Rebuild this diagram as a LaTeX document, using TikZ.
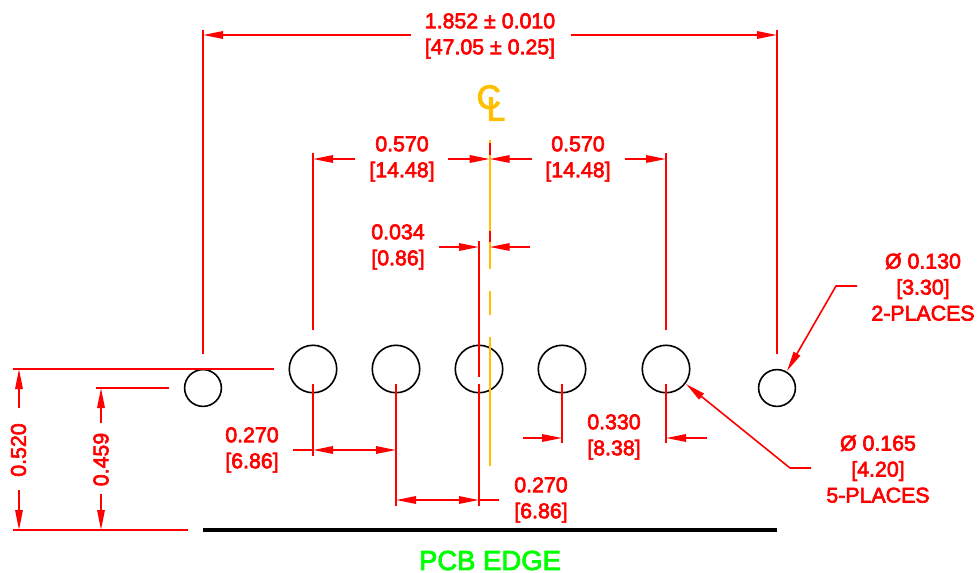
\documentclass[tikz,border=0pt]{standalone}
\usepackage{fontspec}
\setmainfont[FakeBold=3]{Liberation Sans}
\usetikzlibrary{arrows.meta}
\definecolor{dimred}{RGB}{255,0,0}
\definecolor{clorange}{RGB}{255,191,0}
\definecolor{pcbgreen}{RGB}{0,255,0}
\tikzset{
  dimline/.style={draw=dimred,line width=1.2pt},
  dimarrow/.style={dimline,-{Triangle[length=15pt,width=5.6pt]}},
  bothdim/.style={dimline,{Triangle[length=15pt,width=5.6pt]}-{Triangle[length=15pt,width=5.6pt]}},
  bighole/.style={circle,draw=black,line width=1.2pt,minimum size=35.6pt,inner sep=0pt},
  smallhole/.style={circle,draw=black,line width=1.2pt,minimum size=27.6pt,inner sep=0pt},
  dimtext/.style={text=dimred,align=center,inner sep=0pt,font=\fontsize{16pt}{19.5pt}\selectfont},
  pcbtext/.style={text=pcbgreen,inner sep=0pt,font=\fontsize{20.6pt}{20.6pt}\selectfont},
  cltext/.style={text=clorange,inner sep=0pt,font=\fontsize{25pt}{25pt}\selectfont},
  clline/.style={draw=clorange,line width=1.2pt},
  edgeline/.style={draw=black,line width=2.7pt}
}
\begin{document}
\begin{tikzpicture}[x=0.75pt,y=-0.75pt]
\useasboundingbox (0,0) rectangle (979,572);
% holes
\node[smallhole] (s1) at (203,388) {};
\node[smallhole] (s2) at (777,388) {};
\node[bighole] (b1) at (313,369) {};
\node[bighole] (b2) at (396,369) {};
\node[bighole] (b3) at (479,369) {};
\node[bighole] (b4) at (562,369) {};
\node[bighole] (b5) at (666,369) {};
% named points
\foreach \n/\x/\y in {
 ta/203/30, tb/203/35, tc/203/354, td/411/35, te/571/35, tf/777/35, tg/777/30, th/777/354,
 ua/313/153, ub/313/159, uc/313/330, ud/355/159, ue/448/159, uf/489.7/159, ug/532/159,
 uh/625/159, ui/666/159, uj/666/153, uk/666/330,
 ca/489.7/143, cb/489.7/155, cc/489.7/231, cd/489.7/242, ce/489.7/140, cf/489.7/269,
 cg/489.7/291, ch/489.7/315, ci/489.7/337, cj/489.7/466,
 va/479/241, vb/479/377, vc/439/247, vd/479/247, ve/530/247, vf/489.7/247,
 wa/13/369, wb/274/369, wc/13/530, wd/188/530, we/96/388, wf/169/388,
 xa/19/369, xb/19/408, xc/19/490, xd/19/530, xe/101/388, xf/101/423, xg/101/494, xh/101/530,
 ya/313/384, yb/313/456, yc/396/384, yd/396/506, ye/479/384, yf/479/506,
 yg/293/450, yh/313/450, yi/396/450, yj/396/500, yk/479/500, yl/499/500,
 za/562/384, zb/562/443, zc/666/384, zd/666/443, ze/523/438, zf/562/438, zg/707/438, zh/666/438,
 la/857/286, lb/836/286, lc/787/371, ld/811/468, le/790/468, lf/686/384,
 ea/203/530, eb/777/530}
 {\coordinate (\n) at (\x,\y);}
% overall width
\draw[dimline] (ta) -- (tc);
\draw[dimline] (tg) -- (th);
\draw[dimarrow] (td) -- (tb);
\draw[dimarrow] (te) -- (tf);
% centre line
\draw[clline] (ce) -- (ca);
\draw[clline] (cb) -- (cc);
\draw[clline] (cd) -- (cf);
\draw[clline] (cg) -- (ch);
\draw[clline] (ci) -- (cj);
\draw[dimline] (ca) -- (cb);
\draw[dimline] (cc) -- (cd);
% 0.570
\draw[dimline] (ua) -- (uc);
\draw[dimline] (uj) -- (uk);
\draw[dimarrow] (ud) -- (ub);
\draw[dimarrow] (ue) -- (uf);
\draw[dimarrow] (ug) -- (uf);
\draw[dimarrow] (uh) -- (ui);
% 0.034
\draw[dimline] (va) -- (vb);
\draw[dimarrow] (vc) -- (vd);
\draw[dimarrow] (ve) -- (vf);
% heights
\draw[dimline] (wa) -- (wb);
\draw[dimline] (wc) -- (wd);
\draw[dimline] (we) -- (wf);
\draw[dimarrow] (xb) -- (xa);
\draw[dimarrow] (xc) -- (xd);
\draw[dimarrow] (xf) -- (xe);
\draw[dimarrow] (xg) -- (xh);
% 0.270
\draw[dimline] (ya) -- (yb);
\draw[dimline] (yc) -- (yd);
\draw[dimline] (ye) -- (yf);
\draw[dimline] (yg) -- (yh);
\draw[bothdim] (yh) -- (yi);
\draw[bothdim] (yj) -- (yk);
\draw[dimline] (yk) -- (yl);
% 0.330
\draw[dimline] (za) -- (zb);
\draw[dimline] (zc) -- (zd);
\draw[dimarrow] (ze) -- (zf);
\draw[dimarrow] (zg) -- (zh);
% leaders
\draw[dimarrow] (la) -- (lb) -- (lc);
\draw[dimarrow] (ld) -- (le) -- (lf);
% pcb edge
\draw[edgeline] (ea) -- (eb);
% texts
\node[dimtext] (t1) at (490,36) {1.852 ± 0.010\\{}[47.05 ± 0.25]};
\node[dimtext] (t2) at (402,159) {0.570\\{}[14.48]};
\node[dimtext] (t3) at (578,159) {0.570\\{}[14.48]};
\node[dimtext] (t4) at (398,247) {0.034\\{}[0.86]};
\node[dimtext] (t5) at (252,450) {0.270\\{}[6.86]};
\node[dimtext] (t6) at (541,500) {0.270\\{}[6.86]};
\node[dimtext] (t7) at (614,437) {0.330\\{}[8.38]};
\node[dimtext] (t8) at (878,469) {Ø 0.165\\{}[4.20]\\5-PLACES};
\node[dimtext] (t9) at (923,287) {Ø 0.130\\{}[3.30]\\2-PLACES};
\node[dimtext,rotate=90] (t10) at (18.5,450) {0.520};
\node[dimtext,rotate=90] (t11) at (101,459.5) {0.459};
\node[pcbtext] (t12) at (490,560.5) {PCB EDGE};
\node[cltext] (t13) at (491,103) {C\kern-10.5pt\lower9pt\hbox{L}};
\end{tikzpicture}
\end{document}
